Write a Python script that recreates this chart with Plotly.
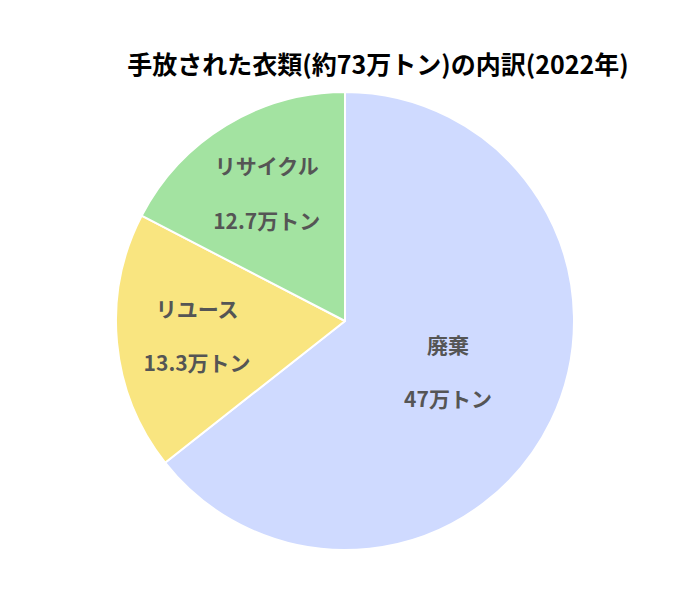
import plotly.graph_objects as go

labels = ["廃棄", "リユース", "リサイクル"]
values = [47, 13.3, 12.7]
value_text = ["47万トン", "13.3万トン", "12.7万トン"]
colors = ["#cfdaff", "#f9e580", "#a3e3a1"]

texts = [f"{l}<br><br>{v}" for l, v in zip(labels, value_text)]

fig = go.Figure(
    go.Pie(
        labels=labels,
        values=values,
        text=texts,
        textinfo="text",
        textposition="inside",
        insidetextorientation="horizontal",
        sort=False,
        direction="clockwise",
        rotation=0,
        marker=dict(colors=colors, line=dict(color="white", width=2)),
        textfont=dict(family="Noto Sans CJK JP", size=21, color="#555555", weight="bold"),
        domain=dict(x=[108 / 687, 566 / 687], y=[1 - 542 / 594, 1 - 84 / 594]),
        showlegend=False,
        hoverinfo="label+value",
    )
)

fig.update_layout(
    width=687,
    height=594,
    margin=dict(l=0, r=0, t=0, b=0),
    paper_bgcolor="white",
    title=dict(
        text="<b>手放された衣類(約73万トン)の内訳(2022年)</b>",
        x=370 / 687,
        xanchor="center",
        y=1 - 57 / 594,
        yanchor="middle",
        font=dict(family="Noto Sans CJK JP", size=25, color="black"),
    ),
)

fig.write_html("out.html")
